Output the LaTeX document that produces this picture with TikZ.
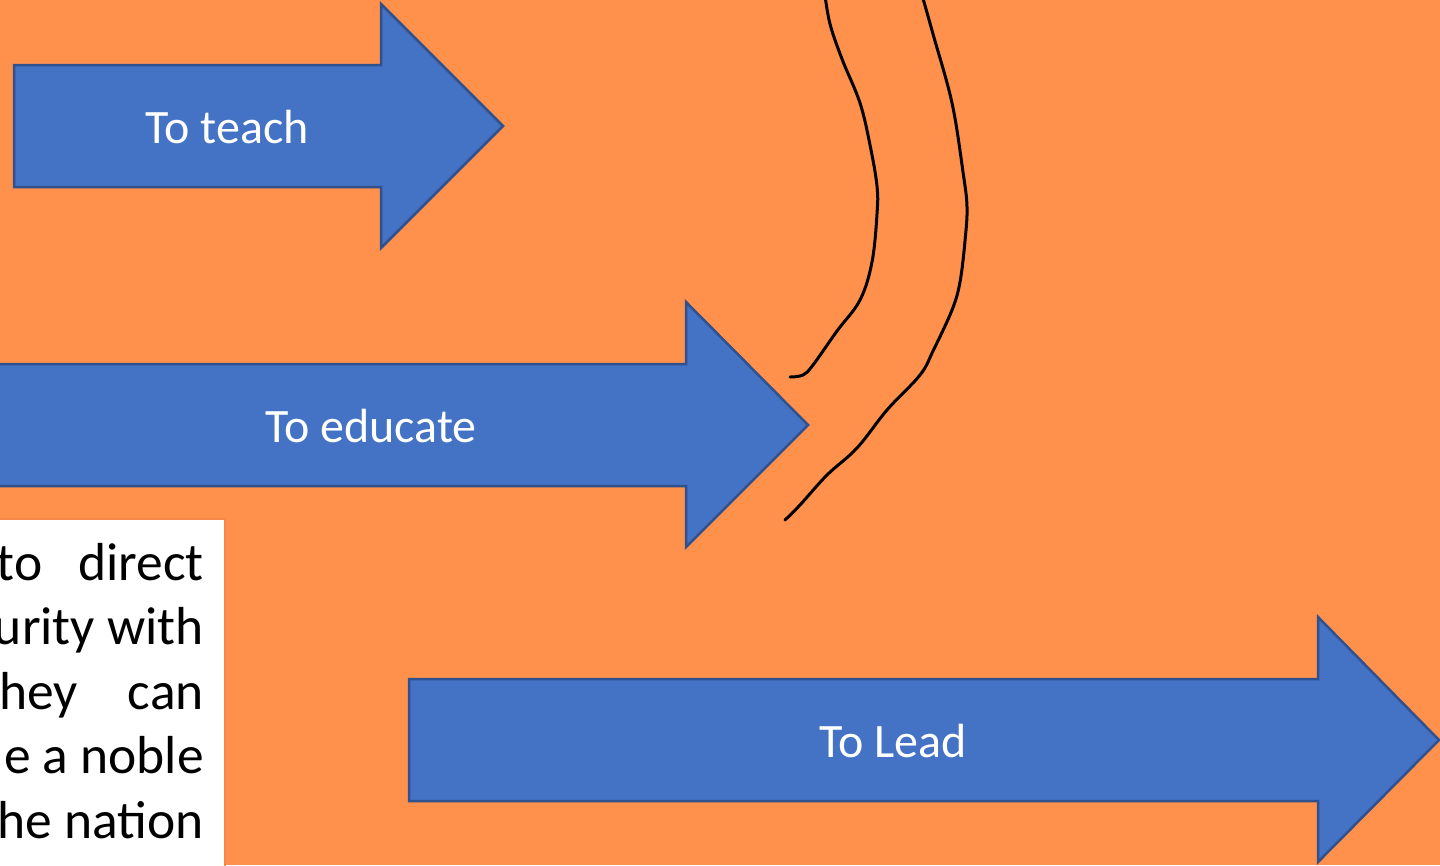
\documentclass[tikz,border=0pt]{standalone}
\usepackage{fontspec}
\setmainfont{Carlito}
\definecolor{bgOrange}{HTML}{FF914D}
\definecolor{arrowBlue}{HTML}{4472C4}
\definecolor{arrowEdge}{HTML}{2F528F}
\definecolor{boxEdge}{HTML}{F4894A}
\tikzset{
  bigarrow/.style={fill=arrowBlue,draw=arrowEdge,line width=2.5pt,line join=miter},
  arrowtext/.style={anchor=base,text=white,inner sep=0pt,font=\fontsize{48}{58}\selectfont},
  stroke/.style={draw=black,line width=3pt,line cap=round,line join=round},
  notetext/.style={anchor=base east,inner sep=0pt,font=\fontsize{53.5}{64}\selectfont}
}
\begin{document}
\begin{tikzpicture}[x=1pt,y=-1pt]%
  % define bigArrow (#left, #body top, #body bottom, #head x, #head top, #head bottom, #tip x)
  \def\bigArrow(#1,#2,#3,#4,#5,#6,#7){
    \filldraw[bigarrow] (#1,#2) -- (#4,#2) -- (#4,#5) -- (#7,{(#2+#3)/2})
      -- (#4,#6) -- (#4,#3) -- (#1,#3) -- cycle;}

  \fill[bgOrange] (0,0) rectangle (1440,865);
  \useasboundingbox (0,0) rectangle (1440,865);

  % white note box, cut by the left and bottom edges
  \filldraw[fill=white,draw=boxEdge,line width=1.5pt] (-5,519) rectangle (225,875);
  \foreach \txt [count=\i] in {to\hspace{36pt}direct, urity with, hey\hspace{50pt}can, e a noble, he nation}
    \node[notetext] (note\i) at (204,{580+64.5*(\i-1)}) {\txt};

  \bigArrow(14,65,187,381,4,248,503)
  \bigArrow(-10,364,486,686,302,547,808)
  \bigArrow(409,679,801,1318,617,862,1439)

  \node[arrowtext] (teach) at (227,143) {To teach};
  \node[arrowtext] (educate) at (371,442) {To educate};
  \node[arrowtext] (lead) at (893,757) {To Lead};

  % hand drawn strokes
  \draw[stroke] plot[smooth,tension=0.6] coordinates {(825,-5) (830,24) (842,59)
    (860,103) (870,145) (877,186) (877,214) (872,262) (860,300) (837,331)
    (813,365) (803,375) (790,377)};
  \draw[stroke] plot[smooth,tension=0.6] coordinates {(922,-5) (933,34) (952,103)
    (963,172) (967,207) (965,241) (960,282) (952,310) (933,351) (920,375)
    (887,410) (857,448) (827,475) (800,505) (785,520)};
\end{tikzpicture}
\end{document}
